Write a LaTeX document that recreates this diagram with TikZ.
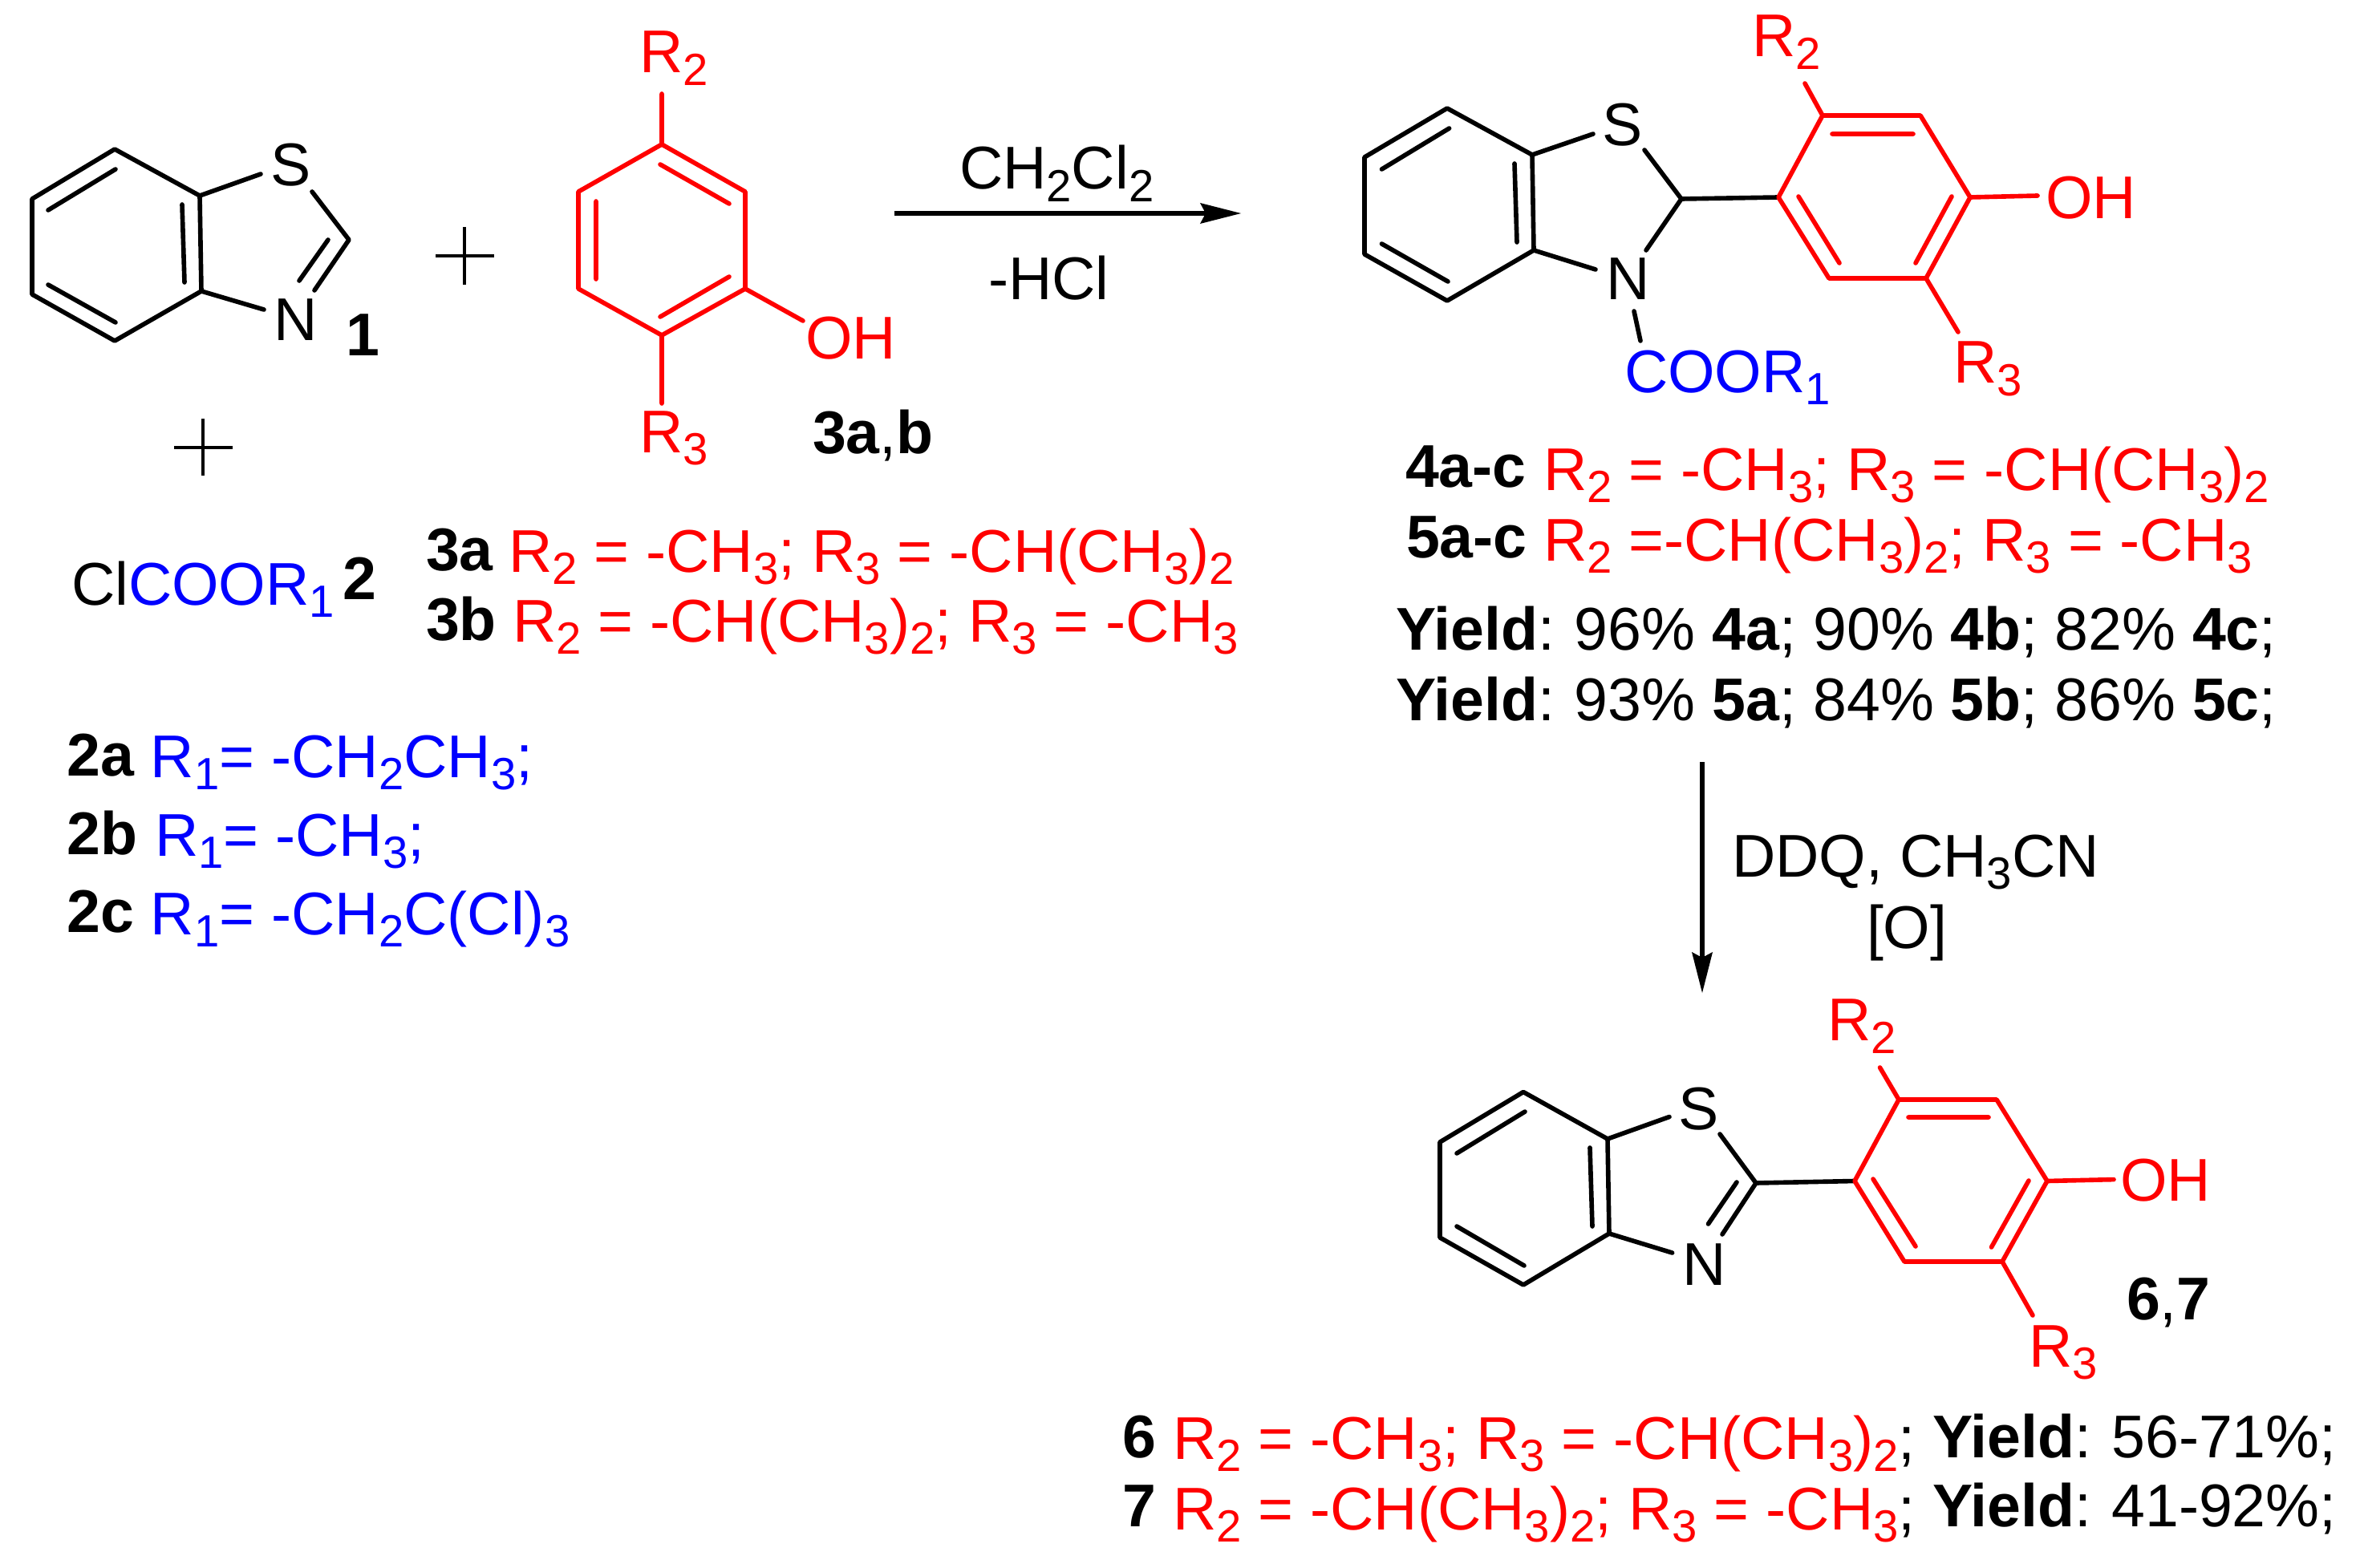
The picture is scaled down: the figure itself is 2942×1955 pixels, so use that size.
\documentclass[tikz,border=0pt]{standalone}
\usepackage{fontspec}
\setmainfont{Liberation Sans}
\usetikzlibrary{arrows.meta}
\newcommand\sbs[1]{\raisebox{-4.4pt}{\fontsize{16}{16}\selectfont #1}}
\tikzset{
  txt/.style={anchor=base west,inner sep=0pt,outer sep=0pt,xshift=-0.03cm,font=\fontsize{21.4}{25}\selectfont},
  redt/.style={txt,text=red,xshift=-0.03cm},
  bluet/.style={txt,text=blue,xshift=-0.02cm},
  bond/.style={line width=1.6pt,line cap=round,line join=round,black},
  rbond/.style={bond,red},
  plusl/.style={line width=1.1pt,black},
  rxn/.style={line width=1.7pt,black,-{Stealth[length=0.51cm,width=0.26cm,inset=0.07cm,line width=0pt]}}
}
\begin{document}
\begin{tikzpicture}[x=0.01cm,y=-0.01cm]
\useasboundingbox (0,0) rectangle (2942,1955);
% ---------- molecule 1
\coordinate (a1) at (143,186); \coordinate (a2) at (40,248); \coordinate (a3) at (40,367);
\coordinate (a4) at (143,425); \coordinate (a5) at (251,363); \coordinate (a6) at (249,244);
\coordinate (a7) at (325,217); \coordinate (a8) at (389,239); \coordinate (a9) at (435,299);
\coordinate (a10) at (392,362); \coordinate (a11) at (329,386);
\coordinate (a12) at (60,262); \coordinate (a13) at (144,211);
\coordinate (a14) at (227,255); \coordinate (a15) at (230,352);
\coordinate (a16) at (60,355); \coordinate (a17) at (144,402);
\coordinate (a18) at (409,299); \coordinate (a19) at (373,350);
\draw[bond] (a1)--(a2)--(a3)--(a4)--(a5)--(a6)--cycle;
\draw[bond] (a6)--(a7) (a8)--(a9)--(a10) (a5)--(a11) (a12)--(a13) (a14)--(a15) (a16)--(a17) (a18)--(a19);
\node[txt] (s1) at (340,232) {S};
\node[txt] (n1) at (344,425) {N};
\node[txt] (l1) at (434,444) {\textbf{1}};
% plus signs
\coordinate (p1) at (543,319); \coordinate (p2) at (616,319); \coordinate (p3) at (579,283); \coordinate (p4) at (579,355);
\draw[plusl] (p1)--(p2) (p3)--(p4);
\coordinate (q1) at (217,558); \coordinate (q2) at (290,558); \coordinate (q3) at (253,522); \coordinate (q4) at (253,593);
\draw[plusl] (q1)--(q2) (q3)--(q4);
% ---------- molecule 3
\coordinate (b1) at (825,180); \coordinate (b2) at (929,239); \coordinate (b3) at (929,360);
\coordinate (b4) at (825,418); \coordinate (b5) at (721,360); \coordinate (b6) at (721,239);
\coordinate (b7) at (825,117); \coordinate (b8) at (825,503); \coordinate (b9) at (1001,400);
\coordinate (b10) at (823,205); \coordinate (b11) at (909,254);
\coordinate (b12) at (743,251); \coordinate (b13) at (743,348);
\coordinate (b14) at (909,345); \coordinate (b15) at (823,395);
\draw[rbond] (b1)--(b2)--(b3)--(b4)--(b5)--(b6)--cycle;
\draw[rbond] (b1)--(b7) (b4)--(b8) (b3)--(b9) (b10)--(b11) (b12)--(b13) (b14)--(b15);
\node[redt] (r2a) at (803,91) {R\sbs{2}};
\node[redt] (r3a) at (803,564) {R\sbs{3}};
\node[redt] (oha) at (1010,448) {OH};
\node[txt] (l3) at (1016,566) {\textbf{3a},\textbf{b}};
% left texts
\node[txt] (cl) at (92,754) {Cl\textcolor{blue}{COOR\sbs{1}}};
\node[txt] (l2) at (430,747) {\textbf{2}};
\node[txt] (l3a) at (534,711) {\textbf{3a}};
\node[redt] (t3a) at (640,713) {R\sbs{2} = -CH\sbs{3}; R\sbs{3} = -CH(CH\sbs{3})\sbs{2}};
\node[txt] (l3b) at (534,798) {\textbf{3b}};
\node[redt] (t3b) at (645,800) {R\sbs{2} = -CH(CH\sbs{3})\sbs{2}; R\sbs{3} = -CH\sbs{3}};
\node[txt] (l2a) at (87,967) {\textbf{2a}};
\node[bluet] (t2a) at (193,969) {R\sbs{1}= -CH\sbs{2}CH\sbs{3};};
\node[txt] (l2b) at (87,1065) {\textbf{2b}};
\node[bluet] (t2b) at (198,1067) {R\sbs{1}= -CH\sbs{3};};
\node[txt] (l2c) at (87,1162) {\textbf{2c}};
\node[bluet] (t2c) at (193,1165) {R\sbs{1}= -CH\sbs{2}C(Cl)\sbs{3}};
% arrow 1
\coordinate (ar1) at (1115,266); \coordinate (ar2) at (1547,266);
\draw[rxn] (ar1)--(ar2);
\node[txt] (cond1) at (1199,236) {CH\sbs{2}Cl\sbs{2}};
\node[txt] (cond2) at (1235,374) {-HCl};
% ---------- molecule 4
\coordinate (c1) at (1804,135); \coordinate (c2) at (1701,196); \coordinate (c3) at (1701,317);
\coordinate (c4) at (1804,375); \coordinate (c5) at (1912,312); \coordinate (c6) at (1910,193);
\coordinate (c7) at (1986,167); \coordinate (c8) at (2050,187); \coordinate (c9) at (2096,248);
\coordinate (c10) at (2052,312); \coordinate (c11) at (1989,336);
\coordinate (c12) at (2037,388); \coordinate (c13) at (2045,425);
\coordinate (c14) at (1722.5,211); \coordinate (c15) at (1806.6,160);
\coordinate (c16) at (1888,204); \coordinate (c17) at (1891,302);
\coordinate (c18) at (1722.5,304); \coordinate (c19) at (1805,351);
\coordinate (c20) at (2217,246);
\coordinate (d1) at (2272,144); \coordinate (d2) at (2394,144); \coordinate (d3) at (2456,246);
\coordinate (d4) at (2401,347); \coordinate (d5) at (2280,347);
\coordinate (d6) at (2250,104); \coordinate (d7) at (2540,244); \coordinate (d8) at (2441,414);
\coordinate (d9) at (2284,167); \coordinate (d10) at (2385,167);
\coordinate (d11) at (2242,245); \coordinate (d12) at (2293,328);
\coordinate (d13) at (2433,245); \coordinate (d14) at (2388,328);
\draw[bond] (c1)--(c2)--(c3)--(c4)--(c5)--(c6)--cycle;
\draw[bond] (c6)--(c7) (c8)--(c9)--(c10) (c5)--(c11) (c12)--(c13) (c14)--(c15) (c16)--(c17) (c18)--(c19) (c9)--(c20);
\draw[rbond] (c20)--(d1)--(d2)--(d3)--(d4)--(d5)--cycle;
\draw[rbond] (d1)--(d6) (d3)--(d7) (d4)--(d8) (d9)--(d10) (d11)--(d12) (d13)--(d14);
\node[txt] (s4) at (2000,182) {S};
\node[txt] (n4) at (2005,374) {N};
\node[bluet] (coor) at (2030,489) {COOR\sbs{1}};
\node[redt] (r2b) at (2190,71) {R\sbs{2}};
\node[redt] (ohb) at (2556,273) {OH};
\node[redt] (r3b) at (2441,478) {R\sbs{3}};
\node[txt] (l4) at (1755,607) {\textbf{4a-c}};
\node[redt] (t4) at (1930,611) {R\sbs{2} = -CH\sbs{3}; R\sbs{3} = -CH(CH\sbs{3})\sbs{2}};
\node[txt] (l5) at (1756,695) {\textbf{5a-c}};
\node[redt] (t5) at (1930,699) {R\sbs{2} =-CH(CH\sbs{3})\sbs{2}; R\sbs{3} = -CH\sbs{3}};
\node[txt] (y4) at (1743,810) {\textbf{Yield}:\kern0.04cm\ 96\% \textbf{4a}; 90\% \textbf{4b}; 82\% \textbf{4c};};
\node[txt] (y5) at (1743,898) {\textbf{Yield}:\kern0.04cm\ 93\% \textbf{5a}; 84\% \textbf{5b}; 86\% \textbf{5c};};
% arrow 2
\coordinate (ar3) at (2122,950); \coordinate (ar4) at (2122,1238);
\draw[rxn] (ar3)--(ar4);
\node[txt] (cond3) at (2162,1093) {DDQ, CH\sbs{3}CN};
\node[txt] (cond4) at (2330,1182) {[O]};
% ---------- molecule 6
\coordinate (e1) at (1899,1361.5); \coordinate (e2) at (1795,1424); \coordinate (e3) at (1795,1543);
\coordinate (e4) at (1899,1602); \coordinate (e5) at (2006,1538); \coordinate (e6) at (2004,1420);
\coordinate (e7) at (2081,1392.5); \coordinate (e8) at (2144,1414); \coordinate (e9) at (2189,1475);
\coordinate (e10) at (2147,1539); \coordinate (e11) at (2165,1474); \coordinate (e12) at (2129.5,1526);
\coordinate (e13) at (2084.6,1562);
\coordinate (e14) at (1816,1438); \coordinate (e15) at (1901,1386);
\coordinate (e16) at (1982,1431); \coordinate (e17) at (1985,1529);
\coordinate (e18) at (1816,1529); \coordinate (e19) at (1900,1578);
\coordinate (f0) at (2312,1472.5);
\coordinate (f1) at (2367,1371); \coordinate (f2) at (2489,1371); \coordinate (f3) at (2552,1472.5);
\coordinate (f4) at (2496,1573); \coordinate (f5) at (2374,1573);
\coordinate (f6) at (2343.5,1331); \coordinate (f7) at (2635,1470.6); \coordinate (f8) at (2534,1640);
\coordinate (f9) at (2379,1393); \coordinate (f10) at (2479,1393);
\coordinate (f11) at (2335,1470); \coordinate (f12) at (2388,1554);
\coordinate (f13) at (2529,1472); \coordinate (f14) at (2482.5,1555);
\draw[bond] (e1)--(e2)--(e3)--(e4)--(e5)--(e6)--cycle;
\draw[bond] (e6)--(e7) (e8)--(e9)--(e10) (e11)--(e12) (e5)--(e13) (e14)--(e15) (e16)--(e17) (e18)--(e19) (e9)--(f0);
\draw[rbond] (f0)--(f1)--(f2)--(f3)--(f4)--(f5)--cycle;
\draw[rbond] (f1)--(f6) (f3)--(f7) (f4)--(f8) (f9)--(f10) (f11)--(f12) (f13)--(f14);
\node[txt] (s6) at (2095,1408.6) {S};
\node[txt] (n6) at (2100,1602) {N};
\node[redt] (r2c) at (2284,1297.6) {R\sbs{2}};
\node[redt] (ohc) at (2649,1497) {OH};
\node[redt] (r3c) at (2535,1704) {R\sbs{3}};
\node[txt] (l67) at (2654,1645) {\textbf{6},\textbf{7}};
\node[txt] (l6) at (1402,1817) {\textbf{6}};
\node[redt] (t6) at (1468,1819) {R\sbs{2} = -CH\sbs{3}; R\sbs{3} = -CH(CH\sbs{3})\sbs{2}\textcolor{black}{;}};
\node[txt] (y6) at (2412,1817) {\textbf{Yield}:\kern0.045cm\ 56-71\%;};
\node[txt] (l7) at (1402,1903) {\textbf{7}};
\node[redt] (t7) at (1468,1907) {R\sbs{2} = -CH(CH\sbs{3})\sbs{2}; R\sbs{3} = -CH\sbs{3}\textcolor{black}{;}};
\node[txt] (y7) at (2412,1903) {\textbf{Yield}:\kern0.045cm\ 41-92\%;};
\end{tikzpicture}
\end{document}
